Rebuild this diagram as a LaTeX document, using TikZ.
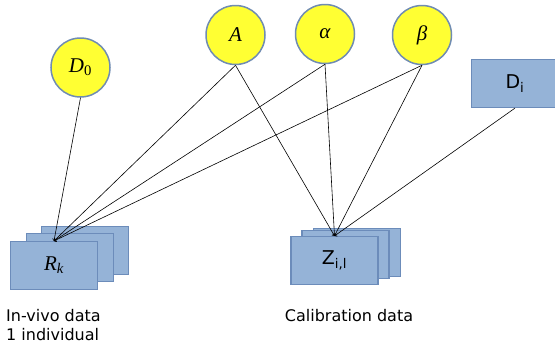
\documentclass[tikz,border=0pt]{standalone}
\usepackage{amsmath}
\usepackage{fontspec}
\newfontfamily\labelfont{DejaVu Sans}
\newfontfamily\paramfont{Liberation Serif}

\definecolor{paramyellow}{RGB}{255,255,51}
\definecolor{ringblue}{RGB}{112,140,178}
\definecolor{boxblue}{RGB}{149,179,215}
\definecolor{boxedge}{RGB}{108,140,186}

\tikzset{
	param/.style={shape=circle,draw=ringblue,fill=paramyellow,line width=1.5pt,
		minimum size=59pt,inner sep=0pt,font=\paramfont\itshape\fontsize{21}{24}\selectfont},
	databox/.style={shape=rectangle,draw=boxedge,fill=boxblue,line width=1.2pt,
		minimum width=87pt,minimum height=48pt,inner sep=0pt,
		font=\labelfont\fontsize{19}{22}\selectfont},
	caption/.style={font=\labelfont\fontsize{16}{19}\selectfont,inner sep=0pt},
}

\begin{document}
\begin{tikzpicture}[x=1pt,y=-1pt]
	
	\useasboundingbox (0,0) rectangle (555,343);
	
	% parameters
	\node[param] (d0)    at (80.5, 67.5) {D\textsubscript{\upshape 0}};
	\node[param] (a)     at (235.5, 35)  {A};
	\node[param] (alpha) at (325, 34)    {α};
	\node[param] (beta)  at (422, 35)    {β};
	\node[databox] (di)  at (515, 83.5)  {D\textsubscript{i}};
	
	% data stacks
	\node[databox] (rk3) at (85, 250.5)  {};
	\node[databox] (rk2) at (70, 257.5)  {};
	\node[databox] (rk)  at (54, 265.5)  {\paramfont\itshape\fontsize{21}{24}\selectfont R\textsubscript{k}};
	\node[databox] (z3)  at (357, 252.5) {};
	\node[databox] (z2)  at (345.5, 254.5) {};
	\node[databox] (z)   at (334.5, 260.5) {Z\textsubscript{i,l}};
	
	\node[caption,anchor=north west,align=left] (invivo) at (6, 309.5) {In-vivo data\\1 individual};
	\node[caption] (calib) at (349, 316) {Calibration data};
	
	\path[->,line width=0.6pt] (d0.south)    edge (rk.north);
	\path[->,line width=0.6pt] (a.south)     edge (rk.north);
	\path[->,line width=0.6pt] (alpha.south) edge (rk.north);
	\path[->,line width=0.6pt] (beta.south)  edge (rk.north);
	\path[->,line width=0.6pt] (a.south)     edge (z.north);
	\path[->,line width=0.6pt] (alpha.south) edge (z.north);
	\path[->,line width=0.6pt] (beta.south)  edge (z.north);
	\path[->,line width=0.6pt] (di.south)    edge (z.north);
	
\end{tikzpicture}
\end{document}
